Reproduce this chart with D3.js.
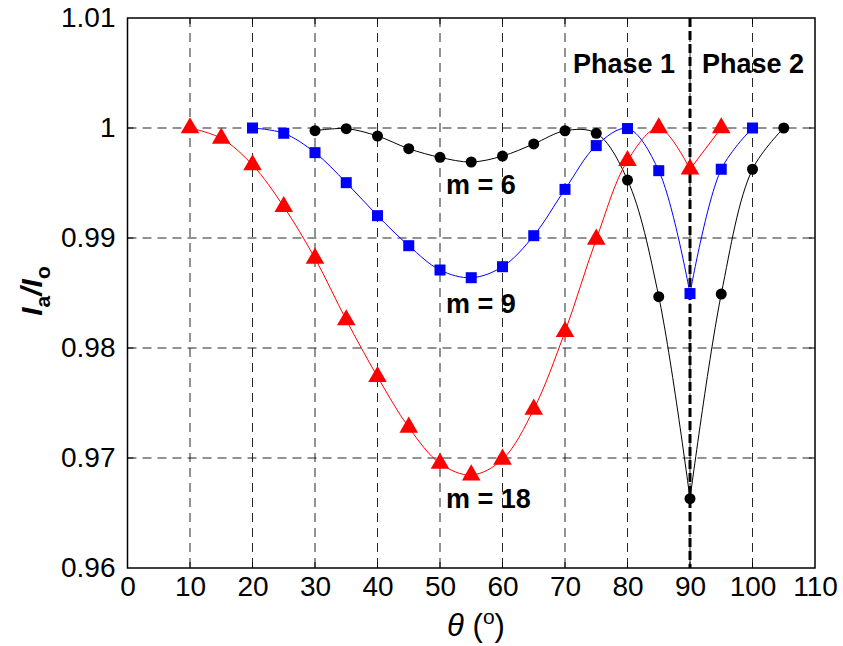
<!DOCTYPE html>
<html>
<head>
<meta charset="utf-8">
<script src="https://cdn.jsdelivr.net/npm/d3@7"></script>
<style>
  html, body { margin: 0; padding: 0; background: #fff; }
  text { font-family: Arial, "Liberation Sans", sans-serif; }
</style>
</head>
<body>
<svg id="chart" width="843" height="646"></svg>
<script>
// ---- data ----
const xTicks = [0, 10, 20, 30, 40, 50, 60, 70, 80, 90, 100, 110];
const yTicks = [0.96, 0.97, 0.98, 0.99, 1.0, 1.01];
const yTickLabels = ["0.96", "0.97", "0.98", "0.99", "1", "1.01"];

const thetaM6 = [30, 35, 40, 45, 50, 55, 60, 65, 70, 75, 80, 85, 90, 95, 100, 105];
const valsM6  = [0.99976, 0.99994, 0.99927, 0.99812, 0.99733, 0.99691, 0.99745, 0.99855, 0.99975, 0.99952, 0.99527, 0.98467, 0.96630, 0.98490, 0.99625, 1.0];

const thetaM9 = [20, 25, 30, 35, 40, 45, 50, 55, 60, 65, 70, 75, 80, 85, 90, 95, 100];
const valsM9  = [1.0, 0.99952, 0.99776, 0.99503, 0.99203, 0.98930, 0.98709, 0.98639, 0.98739, 0.99021, 0.99442, 0.99840, 0.99995, 0.99612, 0.98495, 0.99625, 1.0];

const thetaM18 = [10, 15, 20, 25, 30, 35, 40, 45, 50, 55, 60, 65, 70, 75, 80, 85, 90, 95];
const valsM18  = [1.0, 0.99906, 0.99664, 0.99285, 0.98815, 0.98255, 0.97739, 0.97279, 0.96951, 0.96845, 0.96988, 0.97443, 0.98148, 0.98988, 0.99703, 1.0, 0.99625, 1.0];

const seriesNames = ["m = 6", "m = 9", "m = 18"];
const phaseBoundary = 90;
const phaseLabels = ["Phase 1", "Phase 2"];

// ---- layout ----
const svg = d3.select("#chart");
const L = 127.5, R = 815, T = 18, B = 568;
const x = d3.scaleLinear().domain([0, 110]).range([L, R]);
const y = d3.scaleLinear().domain([0.96, 1.01]).range([B, T]);

// grid
const grid = svg.append("g");
grid.selectAll("line.vg").data(xTicks.slice(1, -1)).enter().append("line")
  .attr("x1", d => x(d)).attr("x2", d => x(d)).attr("y1", T).attr("y2", B)
  .attr("stroke", "#000").attr("stroke-width", 1).attr("stroke-dasharray", "9,6").attr("opacity", 0.85);
grid.selectAll("line.hg").data(yTicks.slice(1, -1)).enter().append("line")
  .attr("x1", L).attr("x2", R).attr("y1", d => y(d)).attr("y2", d => y(d))
  .attr("stroke", "#000").attr("stroke-width", 1).attr("stroke-dasharray", "9,6").attr("opacity", 0.85);

// axes
const xAxis = d3.axisBottom(x).tickValues(xTicks).tickSize(0).tickPadding(6).tickFormat(d3.format("d"));
const yAxis = d3.axisLeft(y).tickValues(yTicks).tickSize(0).tickPadding(12).tickFormat((d, i) => yTickLabels[i]);
const gx = svg.append("g").attr("transform", `translate(0,${B})`).call(xAxis);
const gy = svg.append("g").attr("transform", `translate(${L},0)`).call(yAxis);
[gx, gy].forEach(g => {
  g.select(".domain").remove();
  g.selectAll("text").attr("font-size", 28).attr("fill", "#000")
    .attr("font-family", "Arial, 'Liberation Sans', sans-serif");
});
gx.selectAll("text").attr("dy", "0.8em");
// inner ticks
svg.append("g").selectAll("line").data(xTicks.slice(1, -1)).enter().append("line")
  .attr("x1", d => x(d)).attr("x2", d => x(d)).attr("y1", B).attr("y2", B - 6).attr("stroke", "#000");
svg.append("g").selectAll("line").data(xTicks.slice(1, -1)).enter().append("line")
  .attr("x1", d => x(d)).attr("x2", d => x(d)).attr("y1", T).attr("y2", T + 6).attr("stroke", "#000");
svg.append("g").selectAll("line").data(yTicks.slice(1, -1)).enter().append("line")
  .attr("x1", L).attr("x2", L + 6).attr("y1", d => y(d)).attr("y2", d => y(d)).attr("stroke", "#000");
svg.append("g").selectAll("line").data(yTicks.slice(1, -1)).enter().append("line")
  .attr("x1", R).attr("x2", R - 6).attr("y1", d => y(d)).attr("y2", d => y(d)).attr("stroke", "#000");

// frame
svg.append("rect").attr("x", L).attr("y", T).attr("width", R - L).attr("height", B - T)
  .attr("fill", "none").attr("stroke", "#000").attr("stroke-width", 1.5);

// phase boundary
svg.append("line").attr("x1", x(phaseBoundary)).attr("x2", x(phaseBoundary)).attr("y1", T).attr("y2", B)
  .attr("stroke", "#000").attr("stroke-width", 3).attr("stroke-dasharray", "9,4");

// series
const series = [
  { t: thetaM6, v: valsM6, color: "#000", marker: "circle" },
  { t: thetaM9, v: valsM9, color: "#0000ff", marker: "square" },
  { t: thetaM18, v: valsM18, color: "#ff0000", marker: "triangle" }
];
const line = d3.line().x(d => x(d[0])).y(d => y(d[1])).curve(d3.curveCatmullRom.alpha(0.5));

series.forEach(s => {
  const pts = s.t.map((t, i) => [t, s.v[i]]);
  const p1 = pts.filter(d => d[0] <= phaseBoundary);
  const p2 = pts.filter(d => d[0] >= phaseBoundary);
  [p1, p2].forEach(seg => {
    if (seg.length > 1) {
      svg.append("path").datum(seg).attr("d", line)
        .attr("fill", "none").attr("stroke", s.color).attr("stroke-width", 1);
    }
  });
  const g = svg.append("g");
  if (s.marker === "circle") {
    g.selectAll("circle").data(pts).enter().append("circle")
      .attr("cx", d => x(d[0])).attr("cy", d => y(d[1])).attr("r", 5.5).attr("fill", s.color);
  } else if (s.marker === "square") {
    g.selectAll("rect").data(pts).enter().append("rect")
      .attr("x", d => x(d[0]) - 5.5).attr("y", d => y(d[1]) - 5.5).attr("width", 11).attr("height", 11).attr("fill", s.color);
  } else {
    const sym = d3.symbol().type(d3.symbolTriangle).size(150);
    g.selectAll("path").data(pts).enter().append("path")
      .attr("d", sym).attr("transform", d => `translate(${x(d[0])},${y(d[1])})`).attr("fill", s.color);
  }
});

// annotations
const ann = [
  { text: seriesNames[0], x: 446, y: 194 },
  { text: seriesNames[1], x: 446, y: 313 },
  { text: seriesNames[2], x: 446, y: 508 },
  { text: phaseLabels[0], x: 573, y: 73 },
  { text: phaseLabels[1], x: 702, y: 73 }
];
svg.append("g").selectAll("text").data(ann).enter().append("text")
  .attr("x", d => d.x).attr("y", d => d.y).text(d => d.text)
  .attr("font-size", 27).attr("font-weight", "bold").attr("fill", "#000");

// x label
const xl = svg.append("text").attr("x", 476).attr("y", 636).attr("text-anchor", "middle")
  .attr("font-size", 31).attr("fill", "#000");
xl.append("tspan").attr("font-style", "italic").text("θ");
xl.append("tspan").text(" (");
xl.append("tspan").attr("font-size", 21).attr("dy", -12).text("o");
xl.append("tspan").attr("dy", 12).text(")");

// y label
const yl = svg.append("text").attr("transform", "translate(42,291) rotate(-90)")
  .attr("text-anchor", "middle").attr("font-size", 30).attr("font-weight", "bold").attr("fill", "#000");
yl.append("tspan").attr("font-style", "italic").text("I");
yl.append("tspan").attr("font-size", 21).attr("dy", 8).text("a");
yl.append("tspan").attr("dy", -8).attr("font-style", "italic").text("/I");
yl.append("tspan").attr("font-size", 21).attr("dy", 8).text("o");
</script>
</body>
</html>
